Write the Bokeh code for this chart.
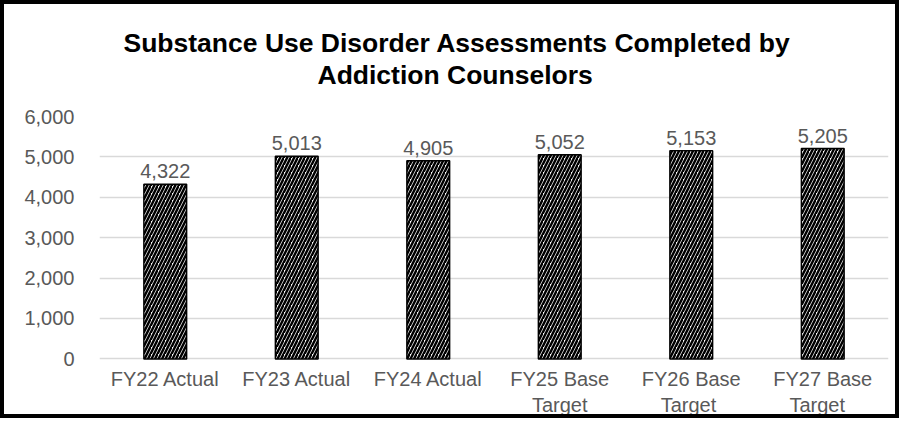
from bokeh.plotting import figure
from bokeh.models import ColumnDataSource, FactorRange, Range1d, NumeralTickFormatter, FixedTicker, Title
from bokeh.embed import file_html
from bokeh.resources import INLINE
from bokeh.core.properties import value

line1 = ["FY22 Actual", "FY23 Actual", "FY24 Actual", "FY25 Base", "FY26 Base", "FY27 Base"]
line2 = ["", " ", "  ", "Target", "Target ", "Target  "]
values = [4322, 5013, 4905, 5052, 5153, 5205]
y_ticks = [0, 1000, 2000, 3000, 4000, 5000, 6000]
title_lines = ["Substance Use Disorder Assessments Completed by", "Addiction Counselors"]

FONT = "Liberation Sans"
GREY = "#595959"

factors = list(zip(line2, line1))
src = ColumnDataSource(dict(cat=factors, val=values, lab=[f"{v:,}" for v in values]))

p = figure(
    x_range=FactorRange(*factors, range_padding=0, group_padding=0, factor_padding=0),
    y_range=Range1d(-40, 6000),
    width=899, height=418,
    output_backend="svg", toolbar_location=None,
    min_border_left=95, min_border_right=15, min_border_top=112, min_border_bottom=62,
)
p.title_location = None
p.styles = {"border": "4px solid black"}
p.outline_line_color = None
p.background_fill_color = "white"
p.border_fill_color = "white"

# title lines: first added sits nearest the frame; left-aligned with offsets to centre on the chart
p.add_layout(Title(text=" ", text_font_size="22px", standoff=0), "above")
p.add_layout(Title(text=title_lines[1], align="left", offset=218, text_font=FONT, text_font_size="26.5px",
                   text_font_style="bold", text_color="black", standoff=0), "above")
p.add_layout(Title(text=title_lines[0], align="left", offset=24, text_font=FONT, text_font_size="26.5px",
                   text_font_style="bold", text_color="black", standoff=0), "above")

p.vbar(x="cat", top="val", width=0.325, source=src,
       fill_color="white", line_color="black", line_width=1.5,
       hatch_pattern="/", hatch_color="black", hatch_scale=7, hatch_weight=2.5)

p.text(x="cat", y="val", text="lab", source=src, text_align="center", text_baseline="bottom",
       y_offset=-6, text_font=value(FONT), text_font_size="20px", text_color=GREY)

p.yaxis.ticker = FixedTicker(ticks=y_ticks)
p.yaxis.formatter = NumeralTickFormatter(format="0,0")
p.yaxis.axis_line_color = None
p.yaxis.major_tick_line_color = None
p.yaxis.minor_tick_line_color = None
p.yaxis.major_label_standoff = 19
p.yaxis.major_label_text_font = FONT
p.yaxis.major_label_text_font_size = "20px"
p.yaxis.major_label_text_color = GREY

p.xaxis.axis_line_color = None
p.xaxis.major_tick_line_color = None
p.xaxis.minor_tick_line_color = None
p.xaxis.major_label_standoff = 1
p.xaxis.major_label_text_font = FONT
p.xaxis.major_label_text_font_size = "20px"
p.xaxis.major_label_text_color = GREY
p.xaxis.group_text_font = FONT
p.xaxis.group_text_font_size = "20px"
p.xaxis.group_text_font_style = "normal"
p.xaxis.group_text_color = GREY
p.xaxis.separator_line_color = None

p.xgrid.grid_line_color = None
p.ygrid.grid_line_color = "#d9d9d9"
p.ygrid.grid_line_width = 1.5

open("out.html", "w").write(file_html(p, INLINE))
